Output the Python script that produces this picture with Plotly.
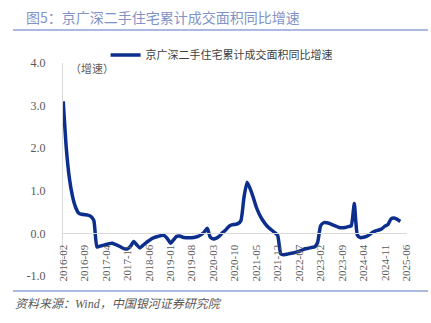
import plotly.graph_objects as go

# ---- data ----
months = []
y, m = 2016, 2
while (y, m) <= (2025, 6):
    months.append(f"{y}-{m:02d}")
    m += 1
    if m > 12:
        m = 1
        y += 1

series_name = "京广深二手住宅累计成交面积同比增速"
values = [
    3.10, 2.00, 1.30, 0.88, 0.62, 0.48, 0.45, 0.44, 0.43, 0.40,
    0.30, -0.32, -0.30, -0.28, -0.26, -0.24, -0.23, -0.26, -0.29, -0.33,
    -0.36, -0.36, -0.30, -0.19, -0.27, -0.34, -0.28, -0.22, -0.17, -0.12,
    -0.09, -0.07, -0.05, -0.05, -0.12, -0.23, -0.15, -0.07, -0.06, -0.09,
    -0.10, -0.10, -0.10, -0.09, -0.07, -0.03, 0.03, 0.12, -0.09, -0.13,
    -0.11, -0.06, 0.02, 0.08, 0.16, 0.20, 0.21, 0.23, 0.30, 0.85,
    1.20, 1.05, 0.85, 0.62, 0.45, 0.32, 0.22, 0.14, 0.08, 0.02,
    -0.05, -0.48, -0.50, -0.49, -0.47, -0.46, -0.44, -0.42, -0.39, -0.36,
    -0.35, -0.33, -0.32, -0.22, 0.18, 0.25, 0.25, 0.23, 0.20, 0.17,
    0.14, 0.13, 0.14, 0.16, 0.18, 0.70, -0.04, -0.10, -0.09, -0.07,
    -0.03, 0.03, 0.06, 0.08, 0.11, 0.17, 0.21, 0.34, 0.36, 0.33,
    0.28,
]
tick_labels = months[::7]
y_ticks = [-1.0, 0.0, 1.0, 2.0, 3.0, 4.0]

title_text = "图5：京广深二手住宅累计成交面积同比增速"
unit_text = "（增速）"
source_text = "资料来源：Wind，中国银河证券研究院"

CJK = "Noto Sans CJK SC"
SERIF = "Liberation Serif"
LINE_COLOR = "#0c2f8e"

# plot-area geometry (pixels)
L, R, T, B = 62, 407, 63, 276
PW, PH = R - L, B - T

def px_x(x):
    return (x - L) / PW

def px_y(y):
    return (B - y) / PH

fig = go.Figure()
fig.add_trace(go.Scatter(
    x=months[:len(values)], y=values, mode="lines", name=series_name,
    line=dict(color=LINE_COLOR, width=3.5, shape="spline", smoothing=0.5),
))

fig.update_layout(
    width=431, height=323,
    margin=dict(l=L, r=431 - R, t=T, b=323 - B, autoexpand=False),
    paper_bgcolor="white", plot_bgcolor="white",
    showlegend=True,
    legend=dict(
        orientation="h", xref="container", yref="container",
        x=0.245, y=1 - 55 / 323, xanchor="left", yanchor="middle",
        font=dict(family=CJK, size=11, color="#404040"),
        bgcolor="rgba(0,0,0,0)", itemwidth=30,
    ),
    xaxis=dict(
        type="category", categoryorder="array", categoryarray=months,
        range=[-0.4, 112.2],
        tickmode="array", tickvals=tick_labels, ticktext=tick_labels,
        tickangle=-90, tickfont=dict(family=SERIF, size=11, color="#595959"),
        showgrid=False, zeroline=False,
        showline=True, linecolor="#d9d9d9", linewidth=1,
        anchor="free", position=0.2, ticks="", ticklabelstandoff=6,
    ),
    yaxis=dict(
        range=[-1, 4], tickmode="array", tickvals=y_ticks,
        ticktext=[f"{v:.1f}" for v in y_ticks],
        tickfont=dict(family=SERIF, size=12, color="#595959"),
        showgrid=False, zeroline=False,
        showline=True, linecolor="#d9d9d9", linewidth=1,
        anchor="free", position=0, ticks="", ticklabelstandoff=14,
    ),
)

fig.add_annotation(
    text=title_text, xref="paper", yref="paper",
    x=px_x(24), y=px_y(17),
    showarrow=False, xanchor="left", yanchor="middle",
    font=dict(family=CJK, size=14, color="#7f93c6"),
)
fig.add_annotation(
    text=unit_text, xref="paper", yref="paper",
    x=px_x(92), y=px_y(68),
    showarrow=False, xanchor="center", yanchor="middle",
    font=dict(family=CJK, size=11, color="#595959"),
)
fig.add_annotation(
    text="<i>" + source_text + "</i>", xref="paper", yref="paper",
    x=px_x(13), y=px_y(304),
    showarrow=False, xanchor="left", yanchor="middle",
    font=dict(family=SERIF + ", " + CJK, size=12, color="#595959"),
)
# horizontal rules above and below the chart
for yy in (30, 291):
    fig.add_shape(
        type="line", xref="paper", yref="paper",
        x0=px_x(13), x1=px_x(428),
        y0=px_y(yy), y1=px_y(yy),
        line=dict(color="#8fa3d3", width=1.5),
    )

fig.write_html("out.html")
